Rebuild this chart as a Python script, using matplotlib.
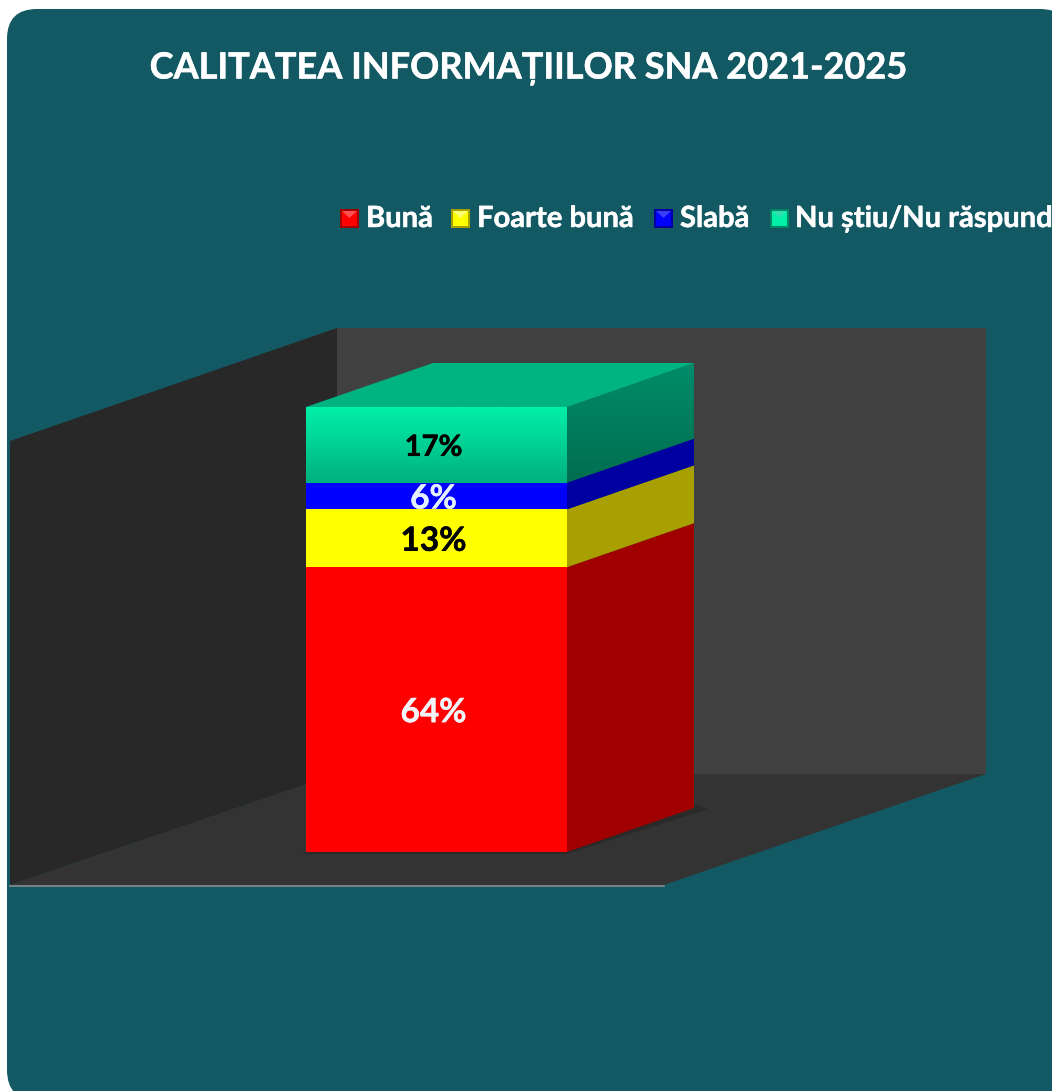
import numpy as np
import matplotlib
matplotlib.use('Agg')
import matplotlib.pyplot as plt
import matplotlib.patheffects as pe
from matplotlib.patches import FancyBboxPatch, Polygon, Rectangle
from matplotlib.colors import LinearSegmentedColormap

plt.rcParams['font.family'] = ['Lato', 'Open Sans', 'DejaVu Sans']

# data
labels = ['Bună', 'Foarte bună', 'Slabă', 'Nu știu/Nu răspund']
values = [64, 13, 6, 17]
value_text = ['64%', '13%', '6%', '17%']
colors = ['#ff0000', '#ffff00', '#0000ff', '#00f0a8']
side_colors = ['#a00000', '#a8a000', '#0000a0', '#008a64']
light_colors = ['#ff5050', '#ffff70', '#3c3cff', '#30e0b0']
text_colors = ['#f2f4f8', '#000000', '#e4efff', '#000000']
text_sizes = [24, 24, 24, 21]

bg = '#135963'

fig = plt.figure(figsize=(10.52, 10.91), dpi=100, facecolor='white')
ax = fig.add_axes([0, 0, 1, 1])
ax.set_xlim(0, 1052)
ax.set_ylim(1091, 0)
ax.axis('off')

ax.add_patch(FancyBboxPatch((37, 39), 1003, 1031, boxstyle='round,pad=30,rounding_size=30',
                            fc=bg, ec='none'))


def heavy(t):
    t.set_path_effects([pe.withStroke(linewidth=0.35, foreground=t.get_color())])


heavy(ax.text(528, 69, 'CALITATEA INFORMAȚIILOR SNA 2021-2025', color='white', fontsize=26,
              fontweight='bold', ha='center', va='center'))

# walls and floor
ax.add_patch(Polygon([(337, 328), (986, 328), (986, 774), (337, 774)], fc='#404040', ec='none'))
ax.add_patch(Polygon([(10, 441), (337, 328), (337, 774), (10, 885)], fc='#282828', ec='none'))
ax.add_patch(Polygon([(10, 885), (337, 774), (986, 774), (664, 885)], fc='#333333', ec='none'))
ax.plot([10, 664], [886, 886], color='#8a8a8a', lw=1.2)


def grad(poly, c1, c2, y1, y2):
    cm = LinearSegmentedColormap.from_list('g', [c1, c2])
    xs = [p[0] for p in poly]
    im = ax.imshow(np.linspace(0, 1, 64).reshape(-1, 1), cmap=cm, aspect='auto',
                   extent=(min(xs), max(xs), y2, y1), zorder=4)
    im.set_clip_path(Polygon(poly, transform=ax.transData))
    ax.set_xlim(0, 1052)
    ax.set_ylim(1091, 0)


# stacked bar
x0, x1 = 306, 567
dx, dy = 127, -44
base = 852
scale = 4.45

# shadow under the bar
ax.add_patch(Polygon([(298, 854), (x1, 854), (x1 + dx + 14, base + dy + 1), (x1 + dx, base + dy - 4)],
                     fc='#2a2a2a', ec='none', zorder=2))

cum = base
for i in range(len(values)):
    h = values[i] * scale
    top = cum - h
    front = [(x0, cum), (x1, cum), (x1, top), (x0, top)]
    side = [(x1, cum), (x1 + dx, cum + dy), (x1 + dx, top + dy), (x1, top)]
    if i == 3:
        grad(front, '#00f0a8', '#00b07e', top, cum)
        grad(side, '#008c6a', '#006e50', top + dy, cum)
        ax.add_patch(Polygon([(x0, top), (x1, top), (x1 + dx, top + dy), (x0 + dx, top + dy)],
                             fc='#00b482', ec='none', zorder=4))
    else:
        ax.add_patch(Polygon(front, fc=colors[i], ec='none', zorder=4))
        ax.add_patch(Polygon(side, fc=side_colors[i], ec='none', zorder=4))
    heavy(ax.text((x0 + x1) / 2 - 3, (cum + top) / 2 + 3, value_text[i], color=text_colors[i],
                  fontsize=text_sizes[i], fontweight='bold', ha='center', va='center', zorder=6))
    cum = top

# legend
lx = [340, 451, 654, 770]
tx = [366, 477, 680, 795]
for i in range(len(labels)):
    ax.add_patch(Rectangle((lx[i], 209), 19, 19, fc=side_colors[i], ec='none'))
    ax.add_patch(Rectangle((lx[i] + 2, 211), 15, 15, fc=colors[i], ec='none'))
    ax.add_patch(Polygon([(lx[i] + 2, 211), (lx[i] + 17, 211), (lx[i] + 9.5, 218)], fc=light_colors[i], ec='none'))
    heavy(ax.text(tx[i], 219, labels[i], color='white', fontsize=21, fontweight='bold',
                  ha='left', va='center', clip_on=True))

fig.savefig('out.png', dpi=100, facecolor='white')
